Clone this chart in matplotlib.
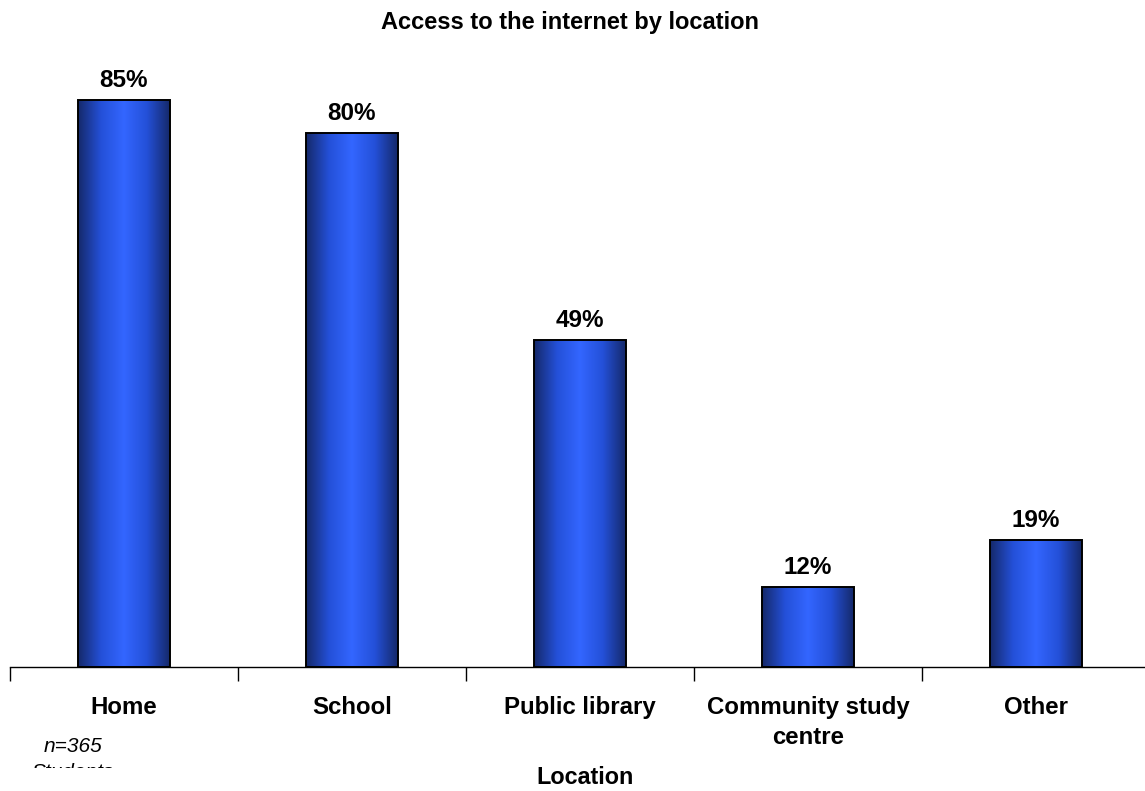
import numpy as np
import matplotlib
matplotlib.use("Agg")
import matplotlib.pyplot as plt
from matplotlib.colors import LinearSegmentedColormap
from matplotlib.transforms import Bbox, TransformedBbox, IdentityTransform

plt.rcParams['font.family'] = ['Liberation Sans', 'DejaVu Sans']

# data
locations = ['Home', 'School', 'Public library', 'Community study\ncentre', 'Other']
access_pct = [85, 80, 49, 12, 19]

fig = plt.figure(figsize=(11.45, 7.91), dpi=100)
W, H = 1145, 791
# axis spans 10px .. 1150px horizontally, baseline at 667px
ax = fig.add_axes([10 / W, (H - 667) / H, 1140 / W, 90 * 6.67 / H])

x = np.arange(len(locations))
bars = ax.bar(x, access_pct, width=0.4, color='none', edgecolor='black', linewidth=1.4, zorder=3)

# horizontal shading: dark edges, bright middle
cmap = LinearSegmentedColormap.from_list('bar', ['#15296a', '#2450d8', '#3366ff', '#2450d8', '#15296a'])
grad = np.linspace(0, 1, 256).reshape(1, -1)
for b in bars:
    x0, y0 = b.get_x(), b.get_y()
    im = ax.imshow(grad, cmap=cmap, aspect='auto', zorder=2,
                   extent=[x0, x0 + b.get_width(), y0, y0 + b.get_height()])
    im.set_clip_path(b)

for xi, v in zip(x, access_pct):
    ax.annotate(f'{v}%', (xi, v), xytext=(0, 6), textcoords='offset points',
                ha='center', va='bottom', fontsize=17.5, fontweight='bold')

ax.set_xlim(-0.5, len(locations) - 0.5)
ax.set_ylim(0, 90)
ax.set_xticks(x)
ax.set_xticklabels(locations, fontsize=17.3, fontweight='bold', linespacing=1.4)
ax.tick_params(axis='x', which='major', length=0, pad=21)
ax.set_xticks(np.arange(-0.5, len(locations)), minor=True)
ax.tick_params(axis='x', which='minor', length=10, width=1, direction='out')
ax.set_yticks([])
for s in ['top', 'right', 'left']:
    ax.spines[s].set_visible(False)
ax.spines['bottom'].set_linewidth(1)

fig.text(570 / W, 1 - 22 / H, 'Access to the internet by location', ha='center', va='center',
         fontsize=17, fontweight='bold')
fig.text(585 / W, 1 - 777 / H, 'Location', ha='center', va='center', fontsize=16.8, fontweight='bold')

fig.text(73 / W, 1 - 747 / H, 'n=365', ha='center', va='center', fontsize=15, style='italic')
stud = fig.text(73 / W, 1 - 772 / H, 'Students', ha='center', va='center', fontsize=15, style='italic')
stud.set_clip_on(True)
stud.set_clip_box(TransformedBbox(Bbox([[0, H - 768], [W, H]]), IdentityTransform()))

fig.savefig('out.png', dpi=100)
